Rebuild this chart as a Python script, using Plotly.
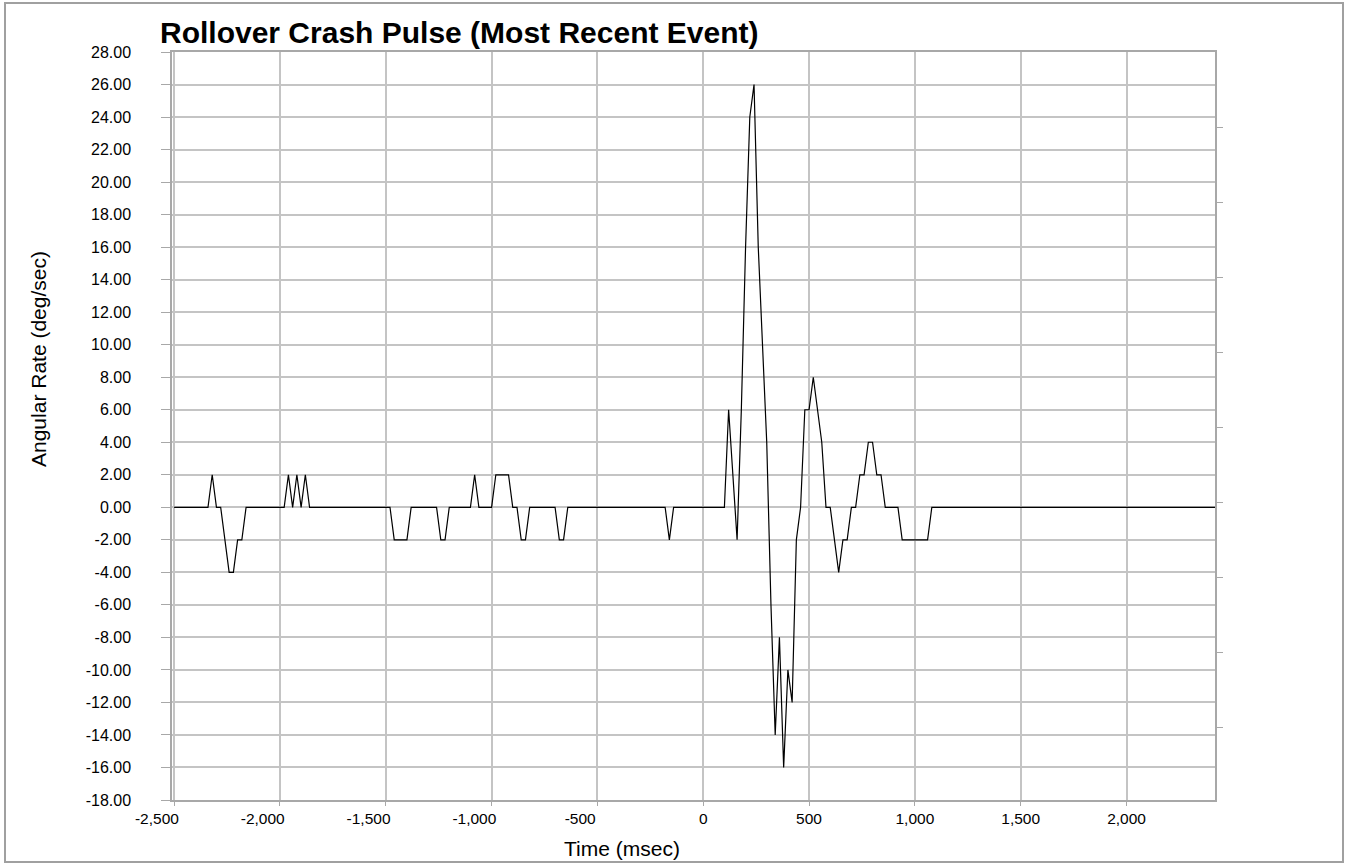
import plotly.graph_objects as go

# ---- data (vertices of the pulse trace) ----
time_ms = [-2500, -2340, -2320, -2300, -2280, -2260, -2240, -2220, -2200, -2180, -2160,
           -1980, -1960, -1940, -1920, -1900, -1880, -1860,
           -1480, -1460, -1400, -1380, -1260, -1240, -1220, -1200,
           -1100, -1080, -1060, -1000, -980, -920, -900, -880, -860, -840, -820,
           -700, -680, -660, -640, -180, -160, -140,
           100, 120, 140, 160, 180, 200, 220, 240, 260, 280, 300, 320, 340,
           360, 380, 400, 420, 440, 460, 480, 500, 520, 540, 560, 580, 600,
           620, 640, 660, 680, 700, 720, 740, 760, 780, 800, 820, 840, 860,
           920, 940, 1060, 1080, 2420]
rate_dps = [0, 0, 2, 0, 0, -2, -4, -4, -2, -2, 0,
            0, 2, 0, 2, 0, 2, 0,
            0, -2, -2, 0, 0, -2, -2, 0,
            0, 2, 0, 0, 2, 2, 0, 0, -2, -2, 0,
            0, -2, -2, 0, 0, -2, 0,
            0, 6, 2, -2, 6, 16, 24, 26, 16, 10, 4, -6, -14,
            -8, -16, -10, -12, -2, 0, 6, 6, 8, 6, 4, 0, 0,
            -2, -4, -2, -2, 0, 0, 2, 2, 4, 4, 2, 2, 0,
            0, -2, -2, 0, 0]

x_tickvals = [-2500, -2000, -1500, -1000, -500, 0, 500, 1000, 1500, 2000]
x_ticktext = ["-2,500", "-2,000", "-1,500", "-1,000", "-500", "0", "500", "1,000", "1,500", "2,000"]
y_tickvals = list(range(-18, 29, 2))
y_ticktext = ["%.2f" % v for v in y_tickvals]

title_text = "Rollover Crash Pulse (Most Recent Event)"
x_title = "Time (msec)"
y_title = "Angular Rate (deg/sec)"

# ---- layout geometry (pixels) ----
W, H = 1350, 865
L, R, T, B = 172, 1215, 52, 800
NB = "\u00a0" * 8  # pad negative labels (they sit left of their gridline in the reference)


def px(xp):
    return (xp - L) / (R - L)


def py(yp):
    return (B - yp) / (B - T)


FONT = "Arial, Liberation Sans, sans-serif"
GRID = "#c4c4c4"
AXL = "#a8a8a8"

fig = go.Figure()
fig.add_trace(go.Scatter(x=time_ms, y=rate_dps, mode="lines",
                         line=dict(color="black", width=1.2),
                         showlegend=False, hoverinfo="x+y"))
fig.add_trace(go.Scatter(x=[None], y=[None], yaxis="y2", showlegend=False,
                         hoverinfo="skip"))

fig.update_layout(
    width=W, height=H,
    margin=dict(l=L, r=W - R, t=T, b=H - B, pad=0),
    paper_bgcolor="white", plot_bgcolor="white",
    font=dict(family=FONT, color="black", size=16),
    title=dict(text="<b>" + title_text + "</b>", x=160 / W, xanchor="left",
               xref="container", y=1 - 32 / H, yanchor="middle", yref="container",
               font=dict(family=FONT, size=30, color="black")),
    xaxis=dict(range=[-2510, 2418], tickvals=x_tickvals,
               ticktext=[t + NB if t.startswith("-") else t for t in x_ticktext],
               showgrid=True, gridcolor=GRID, gridwidth=1.5,
               zeroline=False, showline=True, linecolor=AXL, linewidth=1.5, mirror=True,
               ticks="outside", ticklen=4, tickcolor=AXL,
               tickfont=dict(size=15.5, family=FONT, color="black")),
    yaxis=dict(range=[-18, 28], tickvals=y_tickvals, ticktext=y_ticktext,
               showgrid=True, gridcolor=GRID, gridwidth=1.5,
               zeroline=False, showline=True, linecolor=AXL, linewidth=1.5, mirror=True,
               ticks="outside", ticklen=9, tickcolor=AXL, ticklabelstandoff=27,
               tickfont=dict(size=16, family=FONT, color="black")),
    yaxis2=dict(overlaying="y", side="right", anchor="x", range=[-0.973, 9.0],
                tickvals=list(range(0, 9)), showticklabels=False, showgrid=False,
                zeroline=False, showline=False, ticks="outside", ticklen=7,
                tickcolor=AXL, tickwidth=1),
    annotations=[
        dict(text=y_title, xref="paper", yref="paper", x=px(38), y=py(359),
             showarrow=False, textangle=-90, xanchor="center", yanchor="middle",
             font=dict(family=FONT, size=21, color="black")),
        dict(text=x_title, xref="paper", yref="paper", x=px(622), y=py(848),
             showarrow=False, xanchor="center", yanchor="middle",
             font=dict(family=FONT, size=21, color="black")),
    ],
    shapes=[dict(type="rect", xref="paper", yref="paper",
                 x0=px(5), x1=px(1343), y0=py(862), y1=py(3),
                 line=dict(color="#a0a0a0", width=2), fillcolor="rgba(0,0,0,0)",
                 layer="below")],
)

fig.write_html("out.html", config={"displayModeBar": False},
               post_script="document.body.style.margin='0';document.body.style.padding='0';")
